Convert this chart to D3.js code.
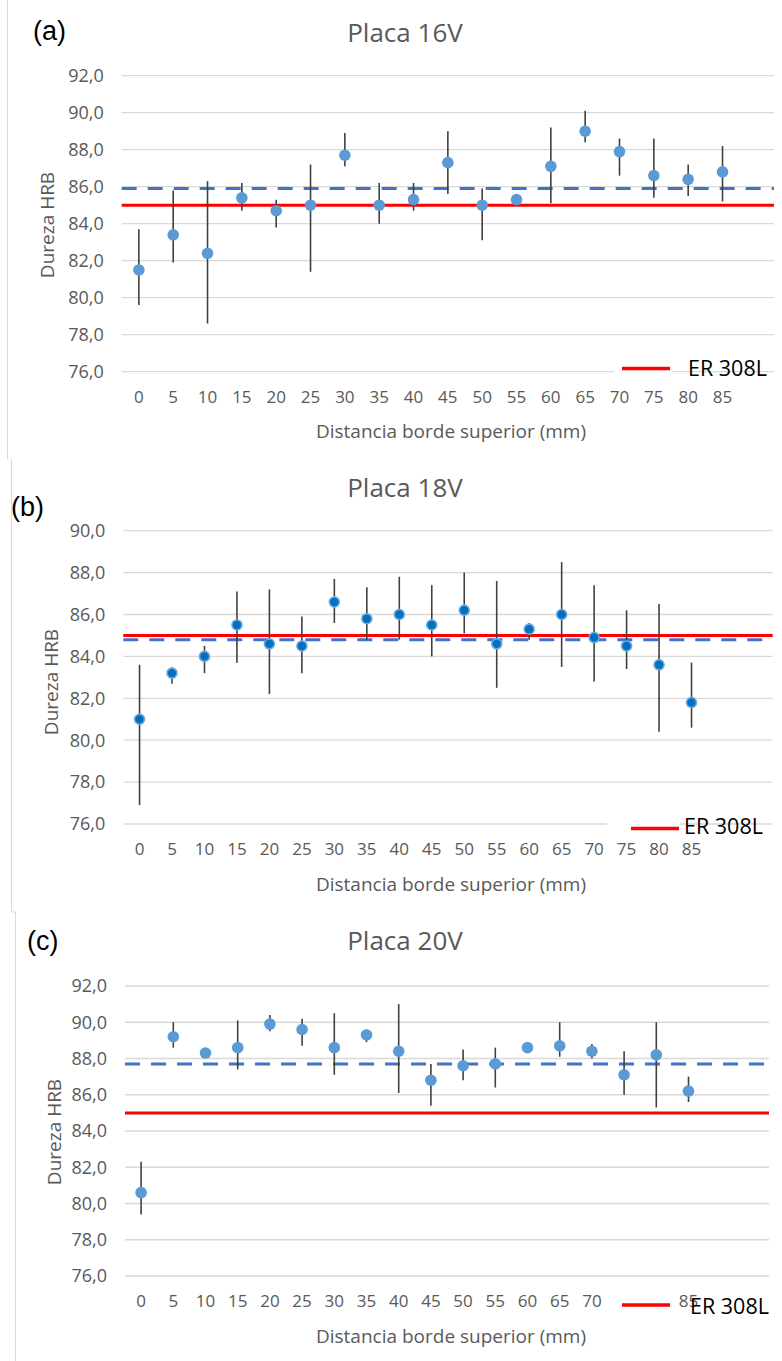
<!DOCTYPE html>
<html>
<head>
<meta charset="utf-8">
<script src="https://cdn.jsdelivr.net/npm/d3@7"></script>
<style>
    body { margin: 0; background: #fff; }
    svg { display: block; }
</style>
</head>
<body>
<div id="chart"></div>
<script>
// x categories (mm from the top edge)
const categories = [0, 5, 10, 15, 20, 25, 30, 35, 40, 45, 50, 55, 60, 65, 70, 75, 80, 85];

// Placa 16V
const meanA  = [81.5, 83.4, 82.4, 85.4, 84.7, 85.0, 87.7, 85.0, 85.3, 87.3, 85.0, 85.3, 87.1, 89.0, 87.9, 86.6, 86.4, 86.8];
const upperA = [83.7, 85.8, 86.3, 86.2, 85.3, 87.2, 88.9, 86.2, 86.2, 89.0, 85.9, 85.3, 89.2, 90.1, 88.6, 88.6, 87.2, 88.2];
const lowerA = [79.6, 81.9, 78.6, 84.7, 83.8, 81.4, 87.1, 84.0, 84.7, 85.6, 83.1, 85.3, 85.1, 88.4, 86.6, 85.4, 85.5, 85.2];
const avgA = 85.9;

// Placa 18V
const meanB  = [81.0, 83.2, 84.0, 85.5, 84.6, 84.5, 86.6, 85.8, 86.0, 85.5, 86.2, 84.6, 85.3, 86.0, 84.9, 84.5, 83.6, 81.8];
const upperB = [83.6, 83.5, 84.5, 87.1, 87.2, 85.9, 87.7, 87.3, 87.8, 87.4, 88.0, 87.6, 85.6, 88.5, 87.4, 86.2, 86.5, 83.7];
const lowerB = [76.9, 82.7, 83.2, 83.7, 82.2, 83.2, 85.6, 84.8, 84.8, 84.0, 85.1, 82.5, 84.8, 83.5, 82.8, 83.4, 80.4, 80.6];
const avgB = 84.8;

// Placa 20V
const meanC  = [80.6, 89.2, 88.3, 88.6, 89.9, 89.6, 88.6, 89.3, 88.4, 86.8, 87.6, 87.7, 88.6, 88.7, 88.4, 87.1, 88.2, 86.2];
const upperC = [82.3, 90.0, 88.3, 90.1, 90.4, 90.2, 90.5, 89.6, 91.0, 87.7, 88.5, 88.6, 88.6, 90.0, 88.8, 88.4, 90.0, 87.0];
const lowerC = [79.4, 88.6, 88.3, 87.4, 89.5, 88.7, 87.1, 88.9, 86.1, 85.4, 86.8, 86.4, 88.6, 88.1, 88.0, 86.0, 85.3, 85.6];
const avgC = 87.7;

// ER 308L reference hardness
const refValue = 85.0;
const legendLabel = 'ER 308L';

const W = 782, H = 1361;
const font = '"Open Sans", "Liberation Sans", sans-serif';
const locale = d3.formatLocale({decimal: ',', thousands: '.', grouping: [3], currency: ['', '']});
const fmt = locale.format('.1f');

const svg = d3.select('#chart').append('svg')
    .attr('width', W)
    .attr('height', H);

// outer chart frame remnants
svg.append('g')
    .attr('stroke', '#d9d9d9')
    .attr('stroke-width', 1)
    .selectAll('line')
    .data([[7.5, 0, 7.5, 459], [11.5, 459, 11.5, 912], [11.5, 912, 15.5, 912], [15.5, 912, 15.5, H]])
    .enter()
    .append('line')
    .attr('x1', function (d) { return d[0]; })
    .attr('y1', function (d) { return d[1]; })
    .attr('x2', function (d) { return d[2]; })
    .attr('y2', function (d) { return d[3]; });

function panel(o) {
    const g = svg.append('g');

    const slots = d3.range(o.slots);
    const x = d3.scaleBand().domain(slots).range([o.left, o.right]);
    const y = d3.scaleLinear().domain([76, o.yMax]).range([o.bottom, o.top]);
    const cx = function (i) { return x(i) + x.bandwidth() / 2; };

    const rows = categories.map(function (c, i) {
        return {i: i, cat: c, mean: o.mean[i], hi: o.upper[i], lo: o.lower[i]};
    });

    // gridlines
    const yTicks = d3.range(76, o.yMax + 0.1, 2);
    g.append('g')
        .selectAll('line')
        .data(yTicks)
        .enter()
        .append('line')
        .attr('x1', o.left)
        .attr('x2', o.right)
        .attr('y1', function (d) { return y(d); })
        .attr('y2', function (d) { return y(d); })
        .attr('stroke', '#d9d9d9')
        .attr('stroke-width', 1.3);

    // y tick labels
    g.append('g')
        .style('font', '18px ' + font)
        .attr('fill', '#595959')
        .selectAll('text')
        .data(yTicks)
        .enter()
        .append('text')
        .attr('x', o.left - 18)
        .attr('y', function (d) { return y(d); })
        .attr('dy', '0.35em')
        .attr('text-anchor', 'end')
        .text(function (d) { return fmt(d); });

    // x tick labels
    g.append('g')
        .style('font', '17px ' + font)
        .attr('fill', '#595959')
        .selectAll('text')
        .data(rows)
        .enter()
        .append('text')
        .attr('x', function (d) { return cx(d.i); })
        .attr('y', o.bottom + 25)
        .attr('dy', '0.35em')
        .attr('text-anchor', 'middle')
        .text(function (d) { return d.cat; });

    // average (dashed) and reference (red) lines
    g.append('line')
        .attr('x1', o.left).attr('x2', o.right)
        .attr('y1', y(o.avg)).attr('y2', y(o.avg))
        .attr('stroke', '#4472c4')
        .attr('stroke-width', 3)
        .attr('stroke-dasharray', '15,11');

    g.append('line')
        .attr('x1', o.left).attr('x2', o.right)
        .attr('y1', y(refValue)).attr('y2', y(refValue))
        .attr('stroke', '#ff0000')
        .attr('stroke-width', 3);

    // error bars
    g.append('g')
        .selectAll('line')
        .data(rows)
        .enter()
        .append('line')
        .attr('x1', function (d) { return cx(d.i); })
        .attr('x2', function (d) { return cx(d.i); })
        .attr('y1', function (d) { return y(d.hi); })
        .attr('y2', function (d) { return y(d.lo); })
        .attr('stroke', '#404040')
        .attr('stroke-width', 1.6);

    // points
    g.append('g')
        .selectAll('circle')
        .data(rows)
        .enter()
        .append('circle')
        .attr('cx', function (d) { return cx(d.i); })
        .attr('cy', function (d) { return y(d.mean); })
        .attr('r', o.dark ? 5 : 5.8)
        .attr('fill', o.dark ? '#0070c0' : '#5b9bd5')
        .attr('stroke', o.dark ? '#6fa8dc' : 'none')
        .attr('stroke-width', o.dark ? 1.6 : 0);

    // legend
    const lg = o.legend;
    g.append('rect')
        .attr('x', lg.boxX).attr('y', lg.boxY)
        .attr('width', lg.boxW).attr('height', lg.boxH)
        .attr('fill', '#fff');
    g.append('line')
        .attr('x1', lg.lineX).attr('x2', lg.lineX + 48)
        .attr('y1', lg.lineY).attr('y2', lg.lineY)
        .attr('stroke', '#ff0000')
        .attr('stroke-width', 3.5);
    g.append('text')
        .attr('x', lg.textX)
        .attr('y', lg.textY)
        .attr('dy', '0.35em')
        .style('font', '21.5px ' + font)
        .attr('fill', '#000')
        .text(legendLabel);

    // titles
    g.append('text')
        .attr('x', 405)
        .attr('y', o.titleY)
        .attr('text-anchor', 'middle')
        .style('font', '26px ' + font)
        .attr('fill', '#595959')
        .text(o.title);

    g.append('text')
        .attr('x', 451)
        .attr('y', o.bottom + 60)
        .attr('dy', '0.35em')
        .attr('text-anchor', 'middle')
        .style('font', '19px ' + font)
        .attr('fill', '#595959')
        .text('Distancia borde superior (mm)');

    g.append('text')
        .attr('transform', 'translate(' + o.yTitleX + ',' + o.yTitleY + ') rotate(-90)')
        .attr('text-anchor', 'middle')
        .attr('dy', '0.35em')
        .style('font', '19px ' + font)
        .attr('fill', '#595959')
        .text('Dureza HRB');

    g.append('text')
        .attr('x', o.tagX)
        .attr('y', o.tagY)
        .style('font', '27px "Liberation Sans", Arial, sans-serif')
        .attr('fill', '#000')
        .text(o.tag);
}

panel({
    tag: '(a)', tagX: 33, tagY: 40,
    title: 'Placa 16V', titleY: 42,
    mean: meanA, upper: upperA, lower: lowerA, avg: avgA,
    slots: 19, left: 121.7, right: 774, top: 75.7, bottom: 371.7, yMax: 92,
    yTitleX: 47, yTitleY: 225,
    legend: {boxX: 614, boxY: 350, boxW: 58, boxH: 28, lineX: 622, lineY: 368.5, textX: 688, textY: 368.5}
});

panel({
    tag: '(b)', tagX: 11, tagY: 516,
    title: 'Placa 18V', titleY: 497,
    mean: meanB, upper: upperB, lower: lowerB, avg: avgB, dark: true,
    slots: 20, left: 123.3, right: 772.7, top: 530.7, bottom: 824, yMax: 90,
    yTitleX: 51, yTitleY: 682,
    legend: {boxX: 607, boxY: 812, boxW: 73, boxH: 25, lineX: 631, lineY: 828.5, textX: 684, textY: 826}
});

panel({
    tag: '(c)', tagX: 27, tagY: 950,
    title: 'Placa 20V', titleY: 950,
    mean: meanC, upper: upperC, lower: lowerC, avg: avgC,
    slots: 20, left: 125, right: 769, top: 986, bottom: 1276, yMax: 92,
    yTitleX: 54, yTitleY: 1132,
    legend: {boxX: 612, boxY: 1287, boxW: 60, boxH: 28, lineX: 622, lineY: 1305, textX: 690, textY: 1306}
});
</script>
</body>
</html>
